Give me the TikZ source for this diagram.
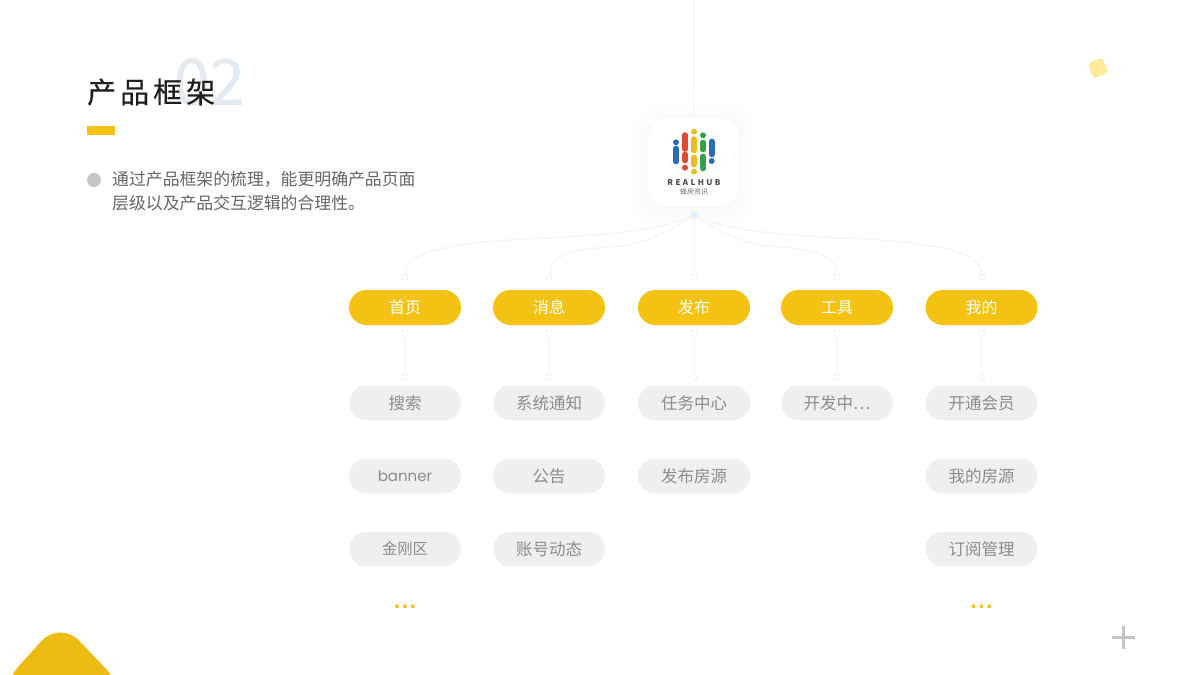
\documentclass[tikz,border=0pt]{standalone}
\usepackage{fontspec}
\usepackage{xcolor}
\usetikzlibrary{shapes.misc}
\setmainfont{Noto Sans CJK SC}
\newfontfamily\titlefont[FakeBold=0.35]{Noto Sans CJK SC}
\newfontfamily\latinfont{Poppins}
\definecolor{amber}{HTML}{F3C213}
\definecolor{pillgray}{HTML}{EFEFEF}
\definecolor{textgray}{HTML}{8C8C8C}
\definecolor{linegray}{HTML}{F1F3F6}
\definecolor{numbertint}{HTML}{E3EBF1}
\definecolor{logoblue}{HTML}{2B6CB8}
\definecolor{logored}{HTML}{DF4A32}
\definecolor{logoyellow}{HTML}{EFBB22}
\definecolor{logogreen}{HTML}{33A04A}

\begin{document}
\begin{tikzpicture}[x=1pt, y=-1pt, node distance=144pt,
    topic/.style={fill=amber, text=white, rounded rectangle, minimum height=35pt, minimum width=112pt, inner sep=0pt, font=\fontsize{16}{16}\selectfont},
    leaf/.style={topic, fill=pillgray, text=textgray, font=\fontsize{16.5}{16.5}\selectfont},
    port/.style={circle, draw=linegray, fill=white, line width=0.9pt, inner sep=0pt, minimum size=6.5pt},
    link/.style={draw=linegray, line width=1pt},
    glow/.style={fill=black, opacity=0.004, rounded corners=#1},
    stick/.style={line width=5.6pt, line cap=round},
    more/.style={text=amber!90!orange, inner sep=0pt, font=\bfseries\fontsize{17}{17}\selectfont}]

    \useasboundingbox (0,0) rectangle (1200,675);
    \fill[white] (0,0) rectangle (1200,675);

    % Corners
    \begin{scope}
        \clip (0,0) rectangle (1200,675);
        \fill[rounded corners=28pt, fill=amber!97!black] (60,620.5) -- (126,690) -- (60,760) -- (-1,688) -- cycle;
    \end{scope}
    \node [fill=yellow!60!orange!38, rectangle, rounded corners=3.5pt, minimum size=16pt, rotate=25, inner sep=0pt] (tile) at (1098,68) {};
    \node [minimum size=1pt, inner sep=0pt] (plus) at (1123,637) {};
    \draw [line width=3pt, color=blue!6!gray!45] (plus) +(-11.5,0) -- +(11.5,0) (plus) +(0,-11.5) -- +(0,11.5);

    % Heading
    \node [text=numbertint, font=\titlefont\fontsize{64}{64}\selectfont] (number) at (209.5,82) {02};
    \node [anchor=west, inner sep=0pt, text=black!88, font=\titlefont\fontsize{29}{29}\selectfont] (title) at (87,92) {产\hspace{4pt}品\hspace{4pt}框\hspace{4pt}架};
    \node [fill=amber, rectangle, minimum width=28pt, minimum height=9pt, inner sep=0pt] (rule) at (101,130.5) {};
    \node [fill=gray!45, circle, minimum size=14pt, inner sep=0pt] (bullet) at (94,180) {};
    \node [anchor=west, inner sep=0pt, text=black!60, font=\fontsize{16.85}{17}\selectfont] (line_a) at (112,179) {通过产品框架的梳理，能更明确产品页面};
    \node [anchor=west, inner sep=0pt, text=black!60, font=\fontsize{16.85}{17}\selectfont] (line_b) at (112,203) {层级以及产品交互逻辑的合理性。};

    % Logo card
    \node [minimum size=1pt, inner sep=0pt] (top) at (694,0) {};
    \foreach \g in {16,13,10,7,4}
        \fill [glow=24pt] (648-\g,118-\g+3) rectangle (739+\g,206+\g+3);
    \node [fill=white, rectangle, rounded corners=20pt, minimum width=91pt, minimum height=88pt, inner sep=0pt] (card) at (693.5,162) {};
    \draw [link] (top) -- (card);
    \draw [stick, color=logoblue] (676,148.5) -- (676,161.5);
    \fill [color=logoblue] (676,142.3) circle (3);
    \draw [stick, color=logored] (685,135) -- (685,149);
    \draw [stick, color=logored] (685,154.5) -- (685,160.5);
    \fill [color=logored] (685,167.7) circle (3);
    \draw [stick, color=logoyellow] (694,139) -- (694,150.5);
    \draw [stick, color=logoyellow] (694,157.5) -- (694,164.5);
    \fill [color=logoyellow] (694,131.7) circle (3);
    \fill [color=logoyellow] (694,171.7) circle (3);
    \draw [stick, color=logogreen] (703,142.5) -- (703,149.5);
    \draw [stick, color=logogreen] (703,156.5) -- (703,168.5);
    \fill [color=logogreen] (703,135.3) circle (3);
    \draw [stick, color=logoblue] (711.7,141.5) -- (711.7,154.5);
    \fill [color=logoblue] (711.7,161) circle (3);
    \node [text=black!70, inner sep=0pt, font=\fontsize{8}{8}\bfseries\selectfont] (brand) at (694,182.3) {R\hspace{2.4pt}E\hspace{2.4pt}A\hspace{2.4pt}L\hspace{2.4pt}H\hspace{2.4pt}U\hspace{2.4pt}B};
    \node [text=black!55, inner sep=0pt, font=\fontsize{7}{7}\selectfont] (brand_cn) at (694,191.5) {蜂房资讯};

    % Nodes
    \node [topic] (home) at (405,307.5) {首页};
    \node [topic, right of=home] (news) {消息};
    \node [topic, right of=news, node distance=145pt] (post) {发布};
    \node [topic, right of=post, node distance=143pt] (tools) {工具};
    \node [topic, right of=tools, node distance=144.5pt] (mine) {我的};

    \node [leaf, below of=home, node distance=95.5pt] (search) {搜索};
    \node [leaf, below of=search, node distance=73pt, font=\latinfont\fontsize{15}{15}\selectfont] (banner) {banner};
    \node [leaf, below of=banner, node distance=73pt, font=\fontsize{15.3}{15.3}\selectfont] (jingang) {金刚区};
    \node [leaf, below of=news, node distance=95.5pt] (notice) {系统通知};
    \node [leaf, below of=notice, node distance=73pt] (bulletin) {公告};
    \node [leaf, below of=bulletin, node distance=73pt] (account) {账号动态};
    \node [leaf, below of=post, node distance=95.5pt] (tasks) {任务中心};
    \node [leaf, below of=tasks, node distance=73pt] (listing) {发布房源};
    \node [leaf, below of=tools, node distance=95.5pt] (devel) {开发中…};
    \node [leaf, below of=mine, node distance=95.5pt] (member) {开通会员};
    \node [leaf, below of=member, node distance=73pt] (myhomes) {我的房源};
    \node [leaf, below of=myhomes, node distance=73pt] (subscribe) {订阅管理};

    \node [more, below of=jingang, node distance=58pt] (more_a) {.\hspace{2pt}.\hspace{2pt}.};
    \node [more, below of=subscribe, node distance=58pt] (more_b) {.\hspace{2pt}.\hspace{2pt}.};

    % Ports
    \node [circle, fill=blue!40!cyan!14, minimum size=6.5pt, inner sep=0pt] (hub) at (694,215) {};
    \node [port, above of=home, node distance=30.5pt] (home_in) {};
    \node [port, above of=news, node distance=30.5pt] (news_in) {};
    \node [port, above of=post, node distance=30.5pt] (post_in) {};
    \node [port, above of=tools, node distance=30.5pt] (tools_in) {};
    \node [port, above of=mine, node distance=30.5pt] (mine_in) {};
    \node [port, below of=home, node distance=26pt] (home_out) {};
    \node [port, below of=news, node distance=26pt] (news_out) {};
    \node [port, below of=post, node distance=26pt] (post_out) {};
    \node [port, below of=tools, node distance=26pt] (tools_out) {};
    \node [port, below of=mine, node distance=26pt] (mine_out) {};
    \node [port, above of=search, node distance=26pt] (search_in) {};
    \node [port, above of=notice, node distance=26pt] (notice_in) {};
    \node [port, above of=tasks, node distance=26pt] (tasks_in) {};
    \node [port, above of=devel, node distance=26pt] (devel_in) {};
    \node [port, above of=member, node distance=26pt] (member_in) {};

    % Links
    \draw [link] (hub) .. controls (655,232) and (600,235) .. (545,238) .. controls (450,242) and (405,252) .. (home_in);
    \draw [link] (hub) .. controls (665,235) and (640,244) .. (620,246) .. controls (580,249) and (552,252) .. (news_in);
    \draw [link] (hub) -- (post_in);
    \draw [link] (hub) .. controls (723,235) and (748,244) .. (768,246) .. controls (808,249) and (835,252) .. (tools_in);
    \draw [link] (hub) .. controls (733,232) and (788,235) .. (843,238) .. controls (938,242) and (981,252) .. (mine_in);

    \draw [link] (home_out) -- (search_in);
    \draw [link] (news_out) -- (notice_in);
    \draw [link] (post_out) -- (tasks_in);
    \draw [link] (tools_out) -- (devel_in);
    \draw [link] (mine_out) -- (member_in);

\end{tikzpicture}
\end{document}
